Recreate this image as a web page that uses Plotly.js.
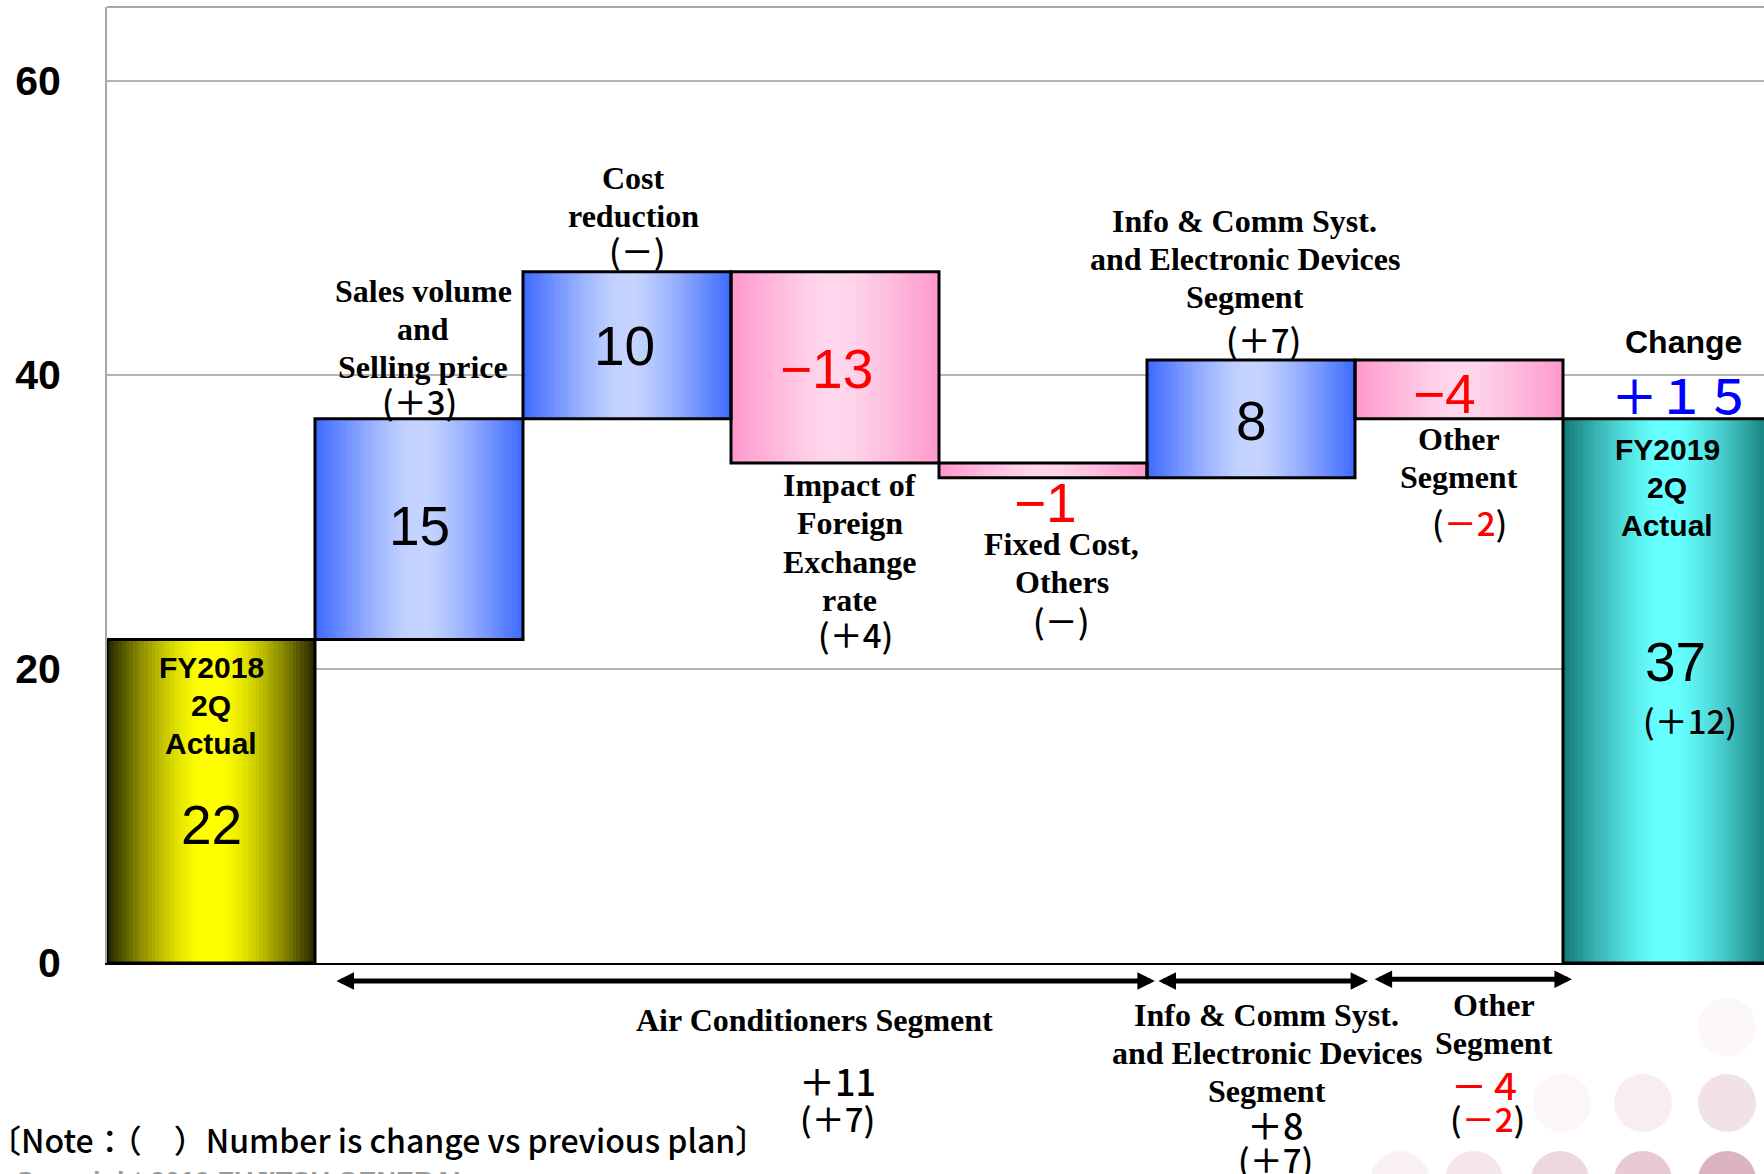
<!DOCTYPE html>
<html>
<head>
<meta charset="utf-8">
<script src="https://cdn.plot.ly/plotly-3.0.1.min.js"></script>
<style>
  html, body { margin: 0; padding: 0; background: #ffffff; }
  #chart { width: 1764px; height: 1174px; }
</style>
</head>
<body>
<div id="chart"></div>
<script>
// Operating income bridge: FY2018 2Q actual -> FY2019 2Q actual (billion yen)
const steps = [
  'FY2018\n2Q\nActual',
  'Sales volume\nand\nSelling price',
  'Cost\nreduction',
  'Impact of\nForeign\nExchange\nrate',
  'Fixed Cost,\nOthers',
  'Info & Comm Syst.\nand Electronic Devices\nSegment',
  'Other\nSegment',
  'FY2019\n2Q\nActual'
];
const measures = ['absolute', 'relative', 'relative', 'relative', 'relative', 'relative', 'relative', 'total'];
const amounts = [22, 15, 10, -13, -1, 8, -4, 37];
// change versus the previous plan, shown in brackets (0 is shown as a dash)
const planDiffs = [null, 3, 0, 4, 0, 7, -2, 12];

// business segments summarised under the axis
const segmentNames = ['Air Conditioners Segment', 'Info & Comm Syst.\nand Electronic Devices\nSegment', 'Other\nSegment'];
const segmentFirst = [1, 5, 6];
const segmentLast = [4, 5, 6];
const segmentPlanDiffs = [7, 7, -2];

const yTicks = [0, 20, 40, 60];
const noteText = '〔Note：（　）Number is change vs previous plan〕';
const copyrightText = 'Copyright 2019 FUJITSU GENERAL';

// ---------- derived geometry of the waterfall ----------
let running = 0;
const bases = amounts.map((a, i) => {
  if (measures[i] === 'absolute') { running = a; return 0; }
  if (measures[i] === 'total') { return 0; }
  const b = running; running += a; return b;
});
const kinds = amounts.map((a, i) =>
  measures[i] === 'absolute' ? 'start' : measures[i] === 'total' ? 'end' : (a >= 0 ? 'up' : 'down'));

// ---------- styling ----------
const NARROW = "'Liberation Sans Narrow', 'Liberation Sans', Arial, sans-serif";
const SERIF = "'Liberation Serif', 'Times New Roman', serif";
const GOTHIC = "'Noto Sans CJK JP', 'Noto Sans', sans-serif";
const RED = '#ff0000';
const BLUE = '#0000ff';
const YMAX = 65;

// horizontal "reflected" gradients: [centre colour, edge colour, curve]
const palette = {
  start: [[255, 255, 0], [34, 34, 0], 1.5],
  up:    [[196, 211, 255], [60, 104, 255], 1.25],
  down:  [[255, 214, 235], [255, 152, 204], 1.2],
  end:   [[102, 255, 255], [18, 120, 118], 1.35]
};
function shade(kind, t) {
  const [c, e, p] = palette[kind];
  const f = Math.pow(Math.max(0, (t - 0.08) / 0.92), p);
  const ch = c.map((v, j) => Math.round(v + (e[j] - v) * f));
  return 'rgb(' + ch.join(',') + ')';
}

const xs = steps.map((_, i) => i);
const traces = [];
const SLICES = 56;
for (let k = 0; k < SLICES; k++) {
  const t = Math.abs((k + 0.5) / SLICES - 0.5) * 2;
  traces.push({
    type: 'bar', x: xs, y: amounts, base: bases,
    offset: -0.5 + k / SLICES, width: 1 / SLICES + 0.004,
    marker: { color: kinds.map(kd => shade(kd, t)), line: { width: 0 } },
    textposition: 'none', hoverinfo: 'skip', showlegend: false
  });
}
// outlines of every block
traces.push({
  type: 'bar', x: xs, y: amounts, base: bases,
  offset: -0.5, width: 1,
  marker: { color: 'rgba(0,0,0,0)', line: { color: '#000000', width: 3 } },
  hovertext: steps.map(s => s.replace(/\n/g, ' ')), hovertemplate: '%{hovertext}: %{y}<extra></extra>',
  textposition: 'none', showlegend: false
});

// ---------- text helpers ----------
function fullWidthDigits(s) {
  return String(s).replace(/[0-9]/g, d => String.fromCharCode(d.charCodeAt(0) + 0xFEE0));
}
function planText(v) {
  if (v === 0) return '(－)';
  if (v > 0) return '(＋' + v + ')';
  return '(<span style="color:' + RED + '">－' + (-v) + '</span>)';
}
function valueText(v) { return v < 0 ? '−' + (-v) : String(v); }

const ann = [];
// font: {size, family, ...overrides}; opts: other annotation keys
function put(x, y, text, font, opts) {
  ann.push(Object.assign({
    x: x, y: y, xref: 'x', yref: 'y', text: text, showarrow: false,
    xanchor: 'center', yanchor: 'middle',
    font: Object.assign({ color: '#000000' }, font)
  }, opts || {}));
}
function putLines(x, yFirst, dy, lines, font, below) {
  lines.forEach((ln, j) => {
    const y = yFirst - j * dy;
    put(x, below ? y / YMAX : y, ln, font, below ? { yref: 'paper' } : null);
  });
}

const LINE = 2.6;          // line step in axis units
const serifBold = { size: 32, family: SERIF, weight: 'bold' };
const narrowFont = (size, extra) => Object.assign({ size: size, family: NARROW, stretch: 'condensed' }, extra || {});
const gothicFont = (size, extra) => Object.assign({ size: size, family: GOTHIC, weight: 500 }, extra || {});

// step descriptions: [x, y of first line]
const labelAt = [
  null,
  [1.02, 45.72], [2.03, 53.36], [3.07, 32.49], [4.09, 28.52], [4.97, 50.46], [6.0, 35.63],
  null
];
// bracketed plan difference positions
const planAt = [null, [1.0, 38.23], [2.05, 48.47], [3.10, 22.40], [4.09, 23.32], [5.06, 42.43], [6.05, 29.97], [7.11, 16.51]];
// value positions
const valueAt = [[0.0, 9.40], [1.0, 29.74], [1.99, 41.97], [2.96, 40.37], [4.01, 31.27], [5.0, 36.85], [5.93, 38.69], [7.04, 20.49]];

steps.forEach((s, i) => {
  const lines = s.split('\n');
  if (labelAt[i]) {
    putLines(labelAt[i][0], labelAt[i][1], LINE, lines, serifBold);
  }
  if (planAt[i] && planDiffs[i] !== null) {
    put(planAt[i][0], planAt[i][1], planText(planDiffs[i]), gothicFont(33));
  }
  put(valueAt[i][0], valueAt[i][1], valueText(amounts[i]),
      narrowFont(55, { color: amounts[i] < 0 ? RED : '#000000' }));
});
// captions inside the two total blocks
putLines(0.0, 20.11, LINE, steps[0].split('\n'), narrowFont(30, { weight: 'bold' }));
putLines(7.0, 34.94, LINE, steps[7].split('\n'), narrowFont(30, { weight: 'bold' }));

// overall change
put(7.08, 42.20, 'Change', narrowFont(32, { weight: 'bold' }));
put(7.07, 38.69, '＋' + fullWidthDigits(amounts[amounts.length - 1] - amounts[0]),
    gothicFont(47, { color: BLUE }));

// ---------- segment summary under the axis ----------
const segLabelAt = [[2.90, -3.90], [5.076, -3.52], [6.168, -2.83]];
const segValueAt = [[3.01, -7.95], [5.12, -10.93], [6.135, -8.26]];
const segPlanAt = [[3.01, -10.55], [5.12, -13.30], [6.135, -10.55]];
segmentNames.forEach((name, s) => {
  let total = 0;
  for (let i = segmentFirst[s]; i <= segmentLast[s]; i++) total += amounts[i];
  putLines(segLabelAt[s][0], segLabelAt[s][1], LINE, name.split('\n'), serifBold, true);
  const vText = total < 0 ? '－' + fullWidthDigits(-total) : '＋' + total;
  put(segValueAt[s][0], segValueAt[s][1] / YMAX, vText,
      gothicFont(36, { color: total < 0 ? RED : '#000000' }), { yref: 'paper' });
  put(segPlanAt[s][0], segPlanAt[s][1] / YMAX, planText(segmentPlanDiffs[s]), gothicFont(33), { yref: 'paper' });
});

// double-headed range arrows for each segment
const arrowSpans = [[0.596, 4.538, -1.22], [4.548, 5.563, -1.22], [5.587, 6.543, -1.10]];
arrowSpans.forEach(([a, b, yv]) => {
  ann.push({
    x: b, y: yv / YMAX, xref: 'x', yref: 'paper',
    ax: a, ay: 0, axref: 'x', ayref: 'pixel',
    text: '', showarrow: true, arrowside: 'end+start',
    arrowhead: 2, arrowsize: 0.7, arrowwidth: 5, arrowcolor: '#000000', standoff: 0, startstandoff: 0
  });
});

// footnote and footer
ann.push({
  x: -0.0722, y: -12.0 / YMAX, xref: 'paper', yref: 'paper', xanchor: 'left', yanchor: 'middle',
  text: noteText, showarrow: false, font: { size: 32, family: GOTHIC, color: '#000000', weight: 500 }
});
ann.push({
  x: -0.057, y: -13.75 / YMAX, xref: 'paper', yref: 'paper', xanchor: 'left', yanchor: 'top',
  text: copyrightText, showarrow: false, font: narrowFont(27, { color: '#9a9a9a', weight: 'bold' })
});

// ---------- frame and slide decoration ----------
const PLOT_W = 1657, PLOT_H = 956, PLOT_L = 107, PLOT_B = 963;
function px2paperX(px) { return (px - PLOT_L) / PLOT_W; }
function px2paperY(py) { return (PLOT_B - py) / PLOT_H; }
const shapes = [
  { type: 'line', xref: 'paper', yref: 'paper', x0: 0, x1: 1, y0: 1, y1: 1,
    line: { color: '#a8a8a8', width: 2 }, layer: 'below' }
];
const dots = [
  [1562, 1103, '#fcf6f8'], [1643, 1103, '#f8eef1'], [1727, 1103, '#f2e1e6'],
  [1727, 1027, '#fcf7f8'],
  [1400, 1180, '#faf1f4'], [1474, 1180, '#f5e6ea'], [1560, 1180, '#eed7de'],
  [1643, 1180, '#e7cad3'], [1727, 1180, '#dcb4c1']
];
dots.forEach(([cx, cy, col]) => {
  shapes.push({
    type: 'circle', xref: 'paper', yref: 'paper',
    x0: px2paperX(cx - 29), x1: px2paperX(cx + 29), y0: px2paperY(cy + 29), y1: px2paperY(cy - 29),
    fillcolor: col, line: { width: 0 }, layer: 'below'
  });
});

const layout = {
  width: 1764, height: 1174,
  margin: { l: PLOT_L, r: 0, t: PLOT_B - PLOT_H, b: 1174 - PLOT_B, pad: 0 },
  paper_bgcolor: '#ffffff', plot_bgcolor: 'rgba(0,0,0,0)',
  barmode: 'overlay', bargap: 0,
  showlegend: false,
  xaxis: {
    range: [-0.5, -0.5 + PLOT_W / 208], showgrid: false, zeroline: false,
    showticklabels: false, ticks: '', showline: true, linecolor: '#000000', linewidth: 1.5,
    fixedrange: true
  },
  yaxis: {
    range: [0, YMAX], tickvals: yTicks, ticktext: yTicks.map(String),
    showgrid: true, gridcolor: '#b4b4b4', gridwidth: 2, zeroline: false,
    showline: true, linecolor: '#a8a8a8', linewidth: 2, ticks: '',
    ticklabelstandoff: 36,
    tickfont: narrowFont(41, { color: '#000000', weight: 'bold' }),
    fixedrange: true
  },
  annotations: ann,
  shapes: shapes
};

Plotly.newPlot('chart', traces, layout, { staticPlot: true, displayModeBar: false });
</script>
</body>
</html>
